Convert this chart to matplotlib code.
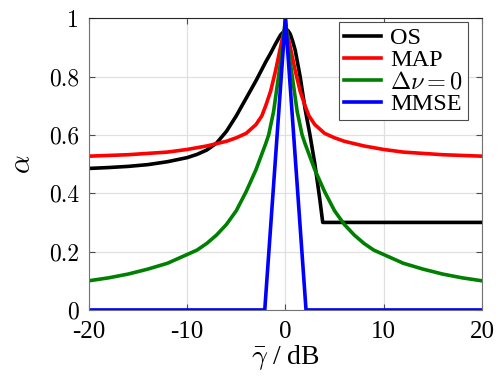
import matplotlib
matplotlib.use("Agg")
import matplotlib.pyplot as plt

plt.rcParams['mathtext.fontset'] = 'cm'
plt.rcParams['font.family'] = ['Liberation Serif', 'DejaVu Serif']

# SNR axis values (dB) and alpha curves
os_x = [-20, -18, -16, -14, -12, -10, -9, -8, -7, -6, -5, -4, -3, -2, -1.5, -1, -0.5, 0,
        0.25, 0.5, 0.75, 1, 1.5, 2, 2.5, 3, 3.5, 3.8, 20]
os_y = [0.485, 0.488, 0.492, 0.498, 0.508, 0.522, 0.533, 0.548, 0.572, 0.612, 0.665, 0.725, 0.785,
        0.85, 0.88, 0.912, 0.942, 0.96,
        0.958, 0.945, 0.92, 0.89, 0.80, 0.69, 0.60, 0.50, 0.38, 0.30, 0.30]

map_x = [-20, -16, -12, -10, -8, -6, -5, -4, -3, -2.4, -2, -1.5, -1, -0.5, -0.25, 0,
         0.25, 0.5, 1, 1.5, 2, 2.4, 3, 4, 5, 6, 8, 10, 12, 16, 20]
map_y = [0.527, 0.532, 0.541, 0.55, 0.562, 0.578, 0.59, 0.605, 0.635, 0.665, 0.70, 0.75, 0.82, 0.90, 0.94, 0.97,
         0.94, 0.90, 0.82, 0.75, 0.70, 0.665, 0.635, 0.605, 0.59, 0.578, 0.562, 0.55, 0.541, 0.532, 0.527]

dnu_x = [-20, -18, -16, -14, -12, -10, -9, -8, -7, -6, -5, -4, -3, -2.5, -2, -1.7, -1.2, -0.7, -0.4, -0.2, 0,
         0.2, 0.4, 0.7, 1.2, 1.7, 2, 2.5, 3, 4, 5, 6, 7, 8, 9, 10, 12, 14, 16, 18, 20]
dnu_y = [0.10, 0.11, 0.123, 0.14, 0.16, 0.19, 0.205, 0.228, 0.257, 0.293, 0.34, 0.405, 0.48, 0.525, 0.57, 0.60,
         0.68, 0.80, 0.87, 0.93, 1.0,
         0.93, 0.87, 0.80, 0.68, 0.60, 0.57, 0.525, 0.48, 0.405, 0.34, 0.293, 0.257, 0.228, 0.205, 0.19,
         0.16, 0.14, 0.123, 0.11, 0.10]

mmse_x = [-20, -2.1, 0, 2.1, 20]
mmse_y = [0, 0, 1, 0, 0]

x_ticks = [-20, -10, 0, 10, 20]
y_ticks = [0, 0.2, 0.4, 0.6, 0.8, 1]
x_labels = ['-20', '-10', '0', '10', '20']
y_labels = ['0', '0.2', '0.4', '0.6', '0.8', '1']

fig = plt.figure(figsize=(5.02, 3.78), dpi=100)
ax = fig.add_axes([0.177, 0.180, 0.783, 0.772])

lw = 2.6
ax.plot(os_x, os_y, color='black', lw=lw, label='OS')
ax.plot(map_x, map_y, color='red', lw=lw, label='MAP')
ax.plot(dnu_x, dnu_y, color='#008000', lw=lw, label=r'$\Delta\nu = 0$')
ax.plot(mmse_x, mmse_y, color='blue', lw=lw, label='MMSE')

ax.set_xlim(-20, 20)
ax.set_ylim(0, 1)
ax.set_xticks(x_ticks)
ax.set_yticks(y_ticks)
ax.set_xticklabels(x_labels, fontsize=18)
ax.set_yticklabels(y_labels, fontsize=17, fontfamily='cmr10')
ax.tick_params(direction='in', top=True, right=True, length=4, width=0.8,
               color='0.3', pad=7)
ax.tick_params(axis='x', pad=8)
ax.grid(True, color='0.88', lw=0.9)
ax.set_axisbelow(True)
for side in ['left', 'bottom', 'right']:
    ax.spines[side].set_color('0.45')
ax.spines['top'].set_color('0.15')

ax.set_xlabel(r'$\bar{\gamma}$ / dB', fontsize=20, labelpad=0)
ax.set_ylabel(r'$\alpha$', fontsize=21, labelpad=9)

leg = ax.legend(loc='upper right', bbox_to_anchor=(0.964, 0.986), borderaxespad=0,
                fontsize=17.5, handlelength=1.55, labelspacing=0.0, handletextpad=0.35,
                borderpad=0.2, fancybox=False, framealpha=1, edgecolor='0.3')
leg.get_frame().set_linewidth(0.8)

fig.savefig('out.png', dpi=100)
